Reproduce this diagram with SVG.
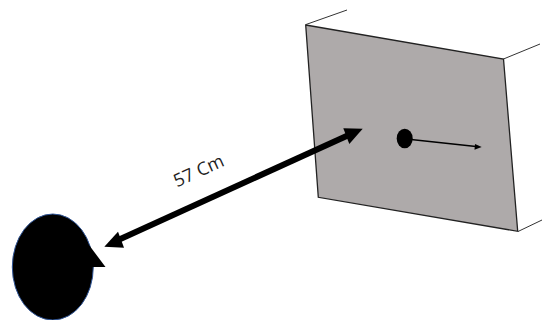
<svg xmlns="http://www.w3.org/2000/svg" width="542" height="320" viewBox="0 0 542 320">
<style>
.edge{fill:none;stroke:#333;stroke-width:1}
.outl{fill:none;stroke:#222;stroke-width:1.4}
.ink{fill:#000}
text{font-family:"Open Sans","Liberation Sans",sans-serif;font-size:18px;fill:#222}
</style>
<rect width="542" height="320" fill="#fff"/>
<g id="screen">
<path class="edge" d="M306 24.500L347 10M503.500 59L540 44M518 231.500L542 220"/>
<polygon points="305.700,25 503.500,59 517.700,231.300 318.300,197.300" fill="#aeaaaa" stroke="#222" stroke-width="1.300"/>
</g>
<g id="fixation">
<ellipse class="ink" cx="404.700" cy="138.500" rx="8" ry="9.800"/>
</g>
<g id="head">
<ellipse cx="52.800" cy="267" rx="40.500" ry="53" fill="#000" stroke="#2f5597" stroke-width="1"/>
<polygon class="ink" points="89,245 105.500,267 90,267"/>
</g>
<g id="connectors">
<line x1="411" y1="139.500" x2="476" y2="146.500" stroke="#000" stroke-width="1.600"/>
<polygon class="ink" points="481.700,147 474.500,149.700 475,144"/>
<line x1="116" y1="241" x2="351" y2="134" stroke="#000" stroke-width="6"/>
<polygon class="ink" points="362.700,128.700 343.300,128.300 349.300,144"/>
<polygon class="ink" points="104.300,246.700 118,231.700 124,247.700"/>
</g>
<text transform="translate(177 187.500) rotate(-24.500)">57 Cm</text>
</svg>
